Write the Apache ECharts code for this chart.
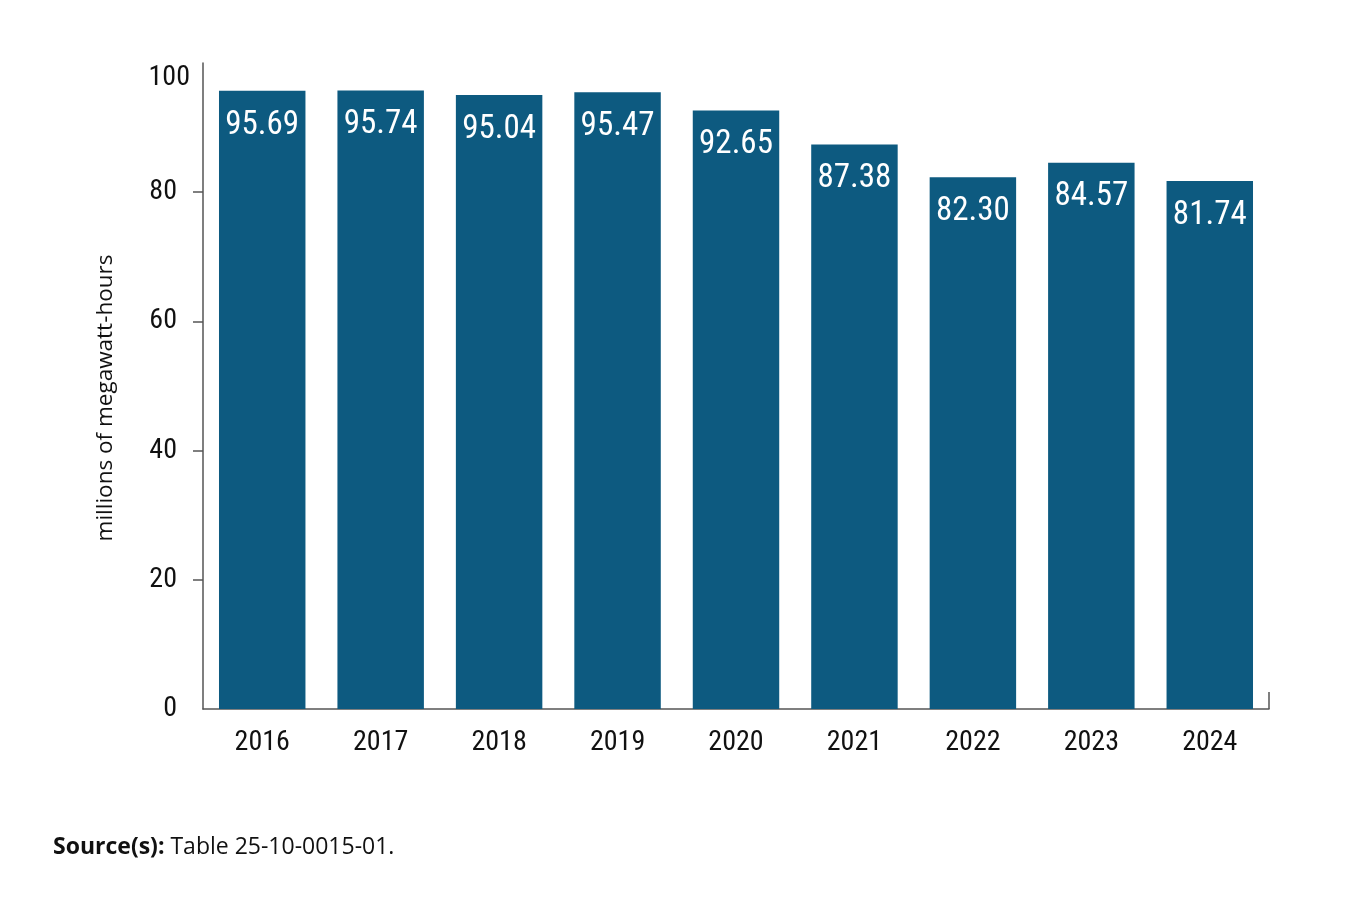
<!DOCTYPE html>
<html><head><meta charset="utf-8">
<script src="https://cdn.jsdelivr.net/npm/echarts@6/dist/echarts.min.js"></script>
<style>html,body{margin:0;padding:0;background:#fff}#c{width:1366px;height:905px}</style>
</head><body><div id="c"></div>
<script>
const categories = ['2016','2017','2018','2019','2020','2021','2022','2023','2024'];
const values = [95.69, 95.74, 95.04, 95.47, 92.65, 87.38, 82.30, 84.57, 81.74];
const yTicks = [0, 20, 40, 60, 80, 100];
const yTickMarks = [20, 40, 60, 80];
const axisName = 'millions of megawatt-hours';
const sourceLabel = 'Source(s):';
const sourceText = ' Table 25-10-0015-01.';

const narrow = '"Liberation Sans Narrow","Roboto Condensed","DejaVu Sans Condensed",Roboto,sans-serif';
const chart = echarts.init(document.getElementById('c'));
chart.setOption({
  animation: false,
  grid: { left: 203, right: 97, top: 63, bottom: 196 },
  xAxis: {
    type: 'category', data: categories,
    axisLine: { lineStyle: { color: '#555', width: 1.5 } },
    axisTick: { show: false },
    axisLabel: { color: '#111', fontFamily: narrow, fontSize: 28, margin: 20 }
  },
  yAxis: {
    type: 'value', min: yTicks[0], max: yTicks[yTicks.length - 1], interval: 20,
    name: axisName, nameLocation: 'middle', nameGap: 86,
    nameTextStyle: { color: '#111', fontFamily: '"Open Sans","Noto Sans",sans-serif', fontSize: 22.5, padding: [0, 24, 0, 0] },
    axisLine: { show: true, lineStyle: { color: '#555', width: 1.5 } },
    axisTick: { show: true, length: 10, customValues: yTickMarks, lineStyle: { color: '#555', width: 1.5 } },
    splitLine: { show: false },
    axisLabel: {
      color: '#111', fontFamily: narrow, fontSize: 28, margin: 13,
      formatter: v => v === 100 ? '{t|100}' : '{n|' + v + '}',
      rich: {
        t: { fontFamily: narrow, fontSize: 28, color: '#111', padding: [30, 0, 0, 0] },
        n: { fontFamily: narrow, fontSize: 28, color: '#111', padding: [0, 13, 0, 0] }
      }
    }
  },
  series: [{
    type: 'bar', data: values, barWidth: '73%',
    itemStyle: { color: '#0d5a80' },
    label: {
      show: true, position: 'insideTop', distance: 18, color: '#fff',
      fontFamily: narrow, fontSize: 33,
      formatter: p => p.value.toFixed(2)
    }
  }],
  graphic: [{
    type: 'text', left: 53, top: 836,
    style: {
      text: '{b|' + sourceLabel + '}{n|' + sourceText + '}',
      rich: {
        b: { fontFamily: '"Open Sans","Noto Sans",sans-serif', fontWeight: 'bold', fontSize: 23, fill: '#111' },
        n: { fontFamily: '"Open Sans","Noto Sans",sans-serif', fontSize: 23, fill: '#111' }
      }
    }
  }]
});
const p0 = chart.convertToPixel({ gridIndex: 0 }, [categories.length - 0.5, 0]);
const gw = 1366 - 97;
chart.setOption({ graphic: [{}, {
  type: 'line', shape: { x1: gw, y1: p0[1], x2: gw, y2: p0[1] - 17 },
  style: { stroke: '#555', lineWidth: 1.5 }
}] });
</script></body></html>
